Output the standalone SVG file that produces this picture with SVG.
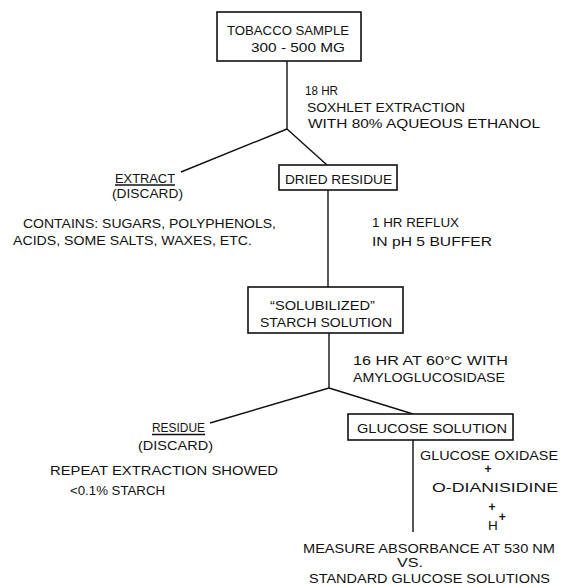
<svg xmlns="http://www.w3.org/2000/svg" width="561" height="587" viewBox="0 0 561 587">
<style>
text{font-family:"Liberation Sans",Arial,sans-serif;font-size:13.5px;fill:#111;}
.pl{font-size:12px;font-weight:bold;}
.box{fill:#fff;stroke:#111;stroke-width:1.6;}
.ln{stroke:#111;stroke-width:1.4;fill:none;}
</style>
<rect width="561" height="587" fill="#fff"/>
<g id="connectors">
<line class="ln" x1="287" y1="61" x2="287" y2="129"/>
<line class="ln" x1="287" y1="129" x2="181" y2="172"/>
<line class="ln" x1="287" y1="129" x2="327" y2="165"/>
<line class="ln" x1="328" y1="190" x2="328" y2="287"/>
<line class="ln" x1="329" y1="333" x2="329" y2="388"/>
<line class="ln" x1="329" y1="388" x2="210" y2="423"/>
<line class="ln" x1="329" y1="388" x2="413" y2="414"/>
<line class="ln" x1="413" y1="440" x2="413" y2="532"/>
</g>
<g id="tobacco">
<rect class="box" x="217" y="12" width="144" height="49"/>
<text x="227" y="35" textLength="122" lengthAdjust="spacingAndGlyphs">TOBACCO SAMPLE</text>
<text x="251" y="52" textLength="94" lengthAdjust="spacingAndGlyphs">300 - 500 MG</text>
</g>
<g id="soxhlet-label">
<text x="305" y="95" textLength="33" lengthAdjust="spacingAndGlyphs">18 HR</text>
<text x="307" y="112" textLength="158" lengthAdjust="spacingAndGlyphs">SOXHLET  EXTRACTION</text>
<text x="308" y="128" textLength="232" lengthAdjust="spacingAndGlyphs">WITH 80% AQUEOUS  ETHANOL</text>
</g>
<g id="extract">
<text x="115" y="183" textLength="60" lengthAdjust="spacingAndGlyphs">EXTRACT</text>
<line class="ln" x1="115" y1="185" x2="175" y2="185"/>
<text x="112" y="198" textLength="71" lengthAdjust="spacingAndGlyphs">(DISCARD)</text>
<text x="23" y="228" textLength="253" lengthAdjust="spacingAndGlyphs">CONTAINS: SUGARS,  POLYPHENOLS,</text>
<text x="13" y="245" textLength="239" lengthAdjust="spacingAndGlyphs">ACIDS, SOME SALTS,  WAXES, ETC.</text>
</g>
<g id="dried-residue">
<rect class="box" x="279" y="165" width="118" height="25"/>
<text x="285" y="184" textLength="107" lengthAdjust="spacingAndGlyphs">DRIED RESIDUE</text>
</g>
<g id="reflux-label">
<text x="372" y="227" textLength="87" lengthAdjust="spacingAndGlyphs">1 HR REFLUX</text>
<text x="372" y="246" textLength="120" lengthAdjust="spacingAndGlyphs">IN pH  5 BUFFER</text>
</g>
<g id="starch-solution">
<rect class="box" x="248" y="287" width="155" height="46"/>
<text x="270" y="310" textLength="105" lengthAdjust="spacingAndGlyphs">“SOLUBILIZED”</text>
<text x="260" y="327" textLength="132" lengthAdjust="spacingAndGlyphs">STARCH SOLUTION</text>
</g>
<g id="amylo-label">
<text x="353" y="365" textLength="155" lengthAdjust="spacingAndGlyphs">16 HR AT 60°C WITH</text>
<text x="353" y="382" textLength="152" lengthAdjust="spacingAndGlyphs">AMYLOGLUCOSIDASE</text>
</g>
<g id="residue">
<text x="152" y="432" textLength="53" lengthAdjust="spacingAndGlyphs">RESIDUE</text>
<line class="ln" x1="152" y1="434.5" x2="205" y2="434.5"/>
<text x="138" y="450" textLength="75" lengthAdjust="spacingAndGlyphs">(DISCARD)</text>
<text x="50" y="475" textLength="228" lengthAdjust="spacingAndGlyphs">REPEAT EXTRACTION SHOWED</text>
<text x="70" y="495" textLength="95" lengthAdjust="spacingAndGlyphs">&lt;0.1%  STARCH</text>
</g>
<g id="glucose-solution">
<rect class="box" x="348" y="414" width="165" height="26"/>
<text x="357" y="433" textLength="150" lengthAdjust="spacingAndGlyphs">GLUCOSE SOLUTION</text>
</g>
<g id="reagents-label">
<text x="420" y="460" textLength="138" lengthAdjust="spacingAndGlyphs">GLUCOSE OXIDASE</text>
<text class="pl" x="488" y="473" text-anchor="middle">+</text>
<text x="432" y="492" textLength="126" lengthAdjust="spacingAndGlyphs">O-DIANISIDINE</text>
<text class="pl" x="492" y="511" text-anchor="middle">+</text>
<text x="488" y="530">H<tspan class="pl" dx="1" dy="-9">+</tspan></text>
</g>
<g id="measure">
<text x="303" y="553" textLength="252" lengthAdjust="spacingAndGlyphs">MEASURE  ABSORBANCE  AT  530 NM</text>
<text x="397" y="567" textLength="26" lengthAdjust="spacingAndGlyphs">VS.</text>
<text x="309" y="583" textLength="241" lengthAdjust="spacingAndGlyphs">STANDARD GLUCOSE SOLUTIONS</text>
</g>
</svg>
